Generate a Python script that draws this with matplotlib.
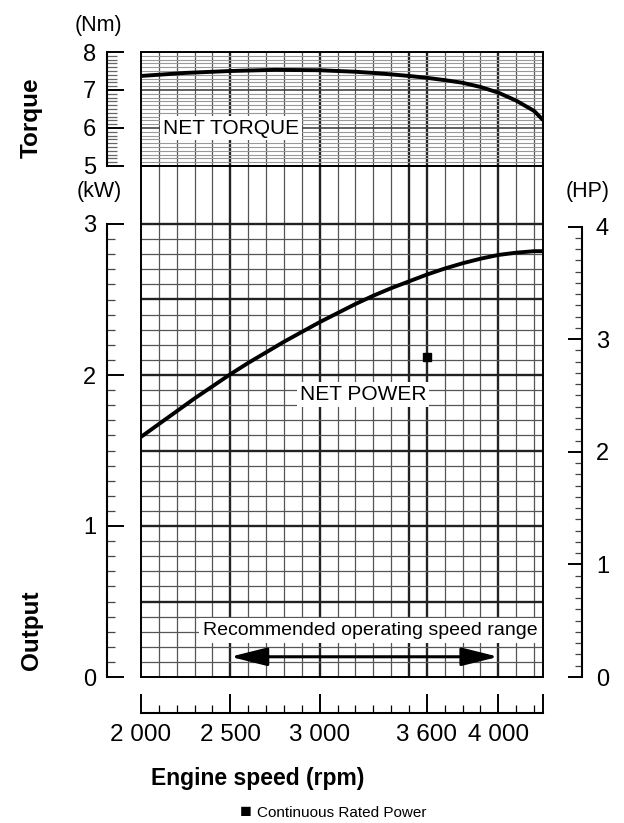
import numpy as np
import matplotlib
matplotlib.use("Agg")
import matplotlib.pyplot as plt
from matplotlib.patches import FancyArrowPatch
from matplotlib.ticker import FixedLocator

plt.rcParams['font.family'] = ['Liberation Sans', 'DejaVu Sans']

# curve readings (engine speed in rpm)
rpm_torque = [2000, 2250, 2500, 2750, 3000, 3200, 3330, 3500, 3600, 3700, 3800, 3900, 4000, 4100, 4200, 4250]
torque_nm = [7.37, 7.45, 7.50, 7.53, 7.52, 7.48, 7.44, 7.37, 7.32, 7.26, 7.19, 7.08, 6.93, 6.72, 6.45, 6.21]

rpm_power = [2000, 2100, 2200, 2300, 2400, 2500, 2600, 2700, 2800, 2900, 3000, 3100,
             3200, 3300, 3400, 3500, 3600, 3700, 3800, 3900, 4000, 4100, 4200, 4250]
power_kw = [1.59, 1.675, 1.76, 1.845, 1.925, 2.005, 2.08, 2.15, 2.22, 2.285, 2.35, 2.41,
            2.47, 2.525, 2.575, 2.62, 2.665, 2.705, 2.74, 2.77, 2.795, 2.81, 2.82, 2.82]

rated_rpm = [3600]
rated_kw = [2.12]
range_rpm = [2500, 4000]

speed_ticks = [2000, 2500, 3000, 3600, 4000, 4250]
speed_labels = ["2 000", "2 500", "3 000", "3 600", "4 000", ""]
heavy_rpm = [2500, 3000, 3500, 3600, 4000]
KW_PER_HP = 0.7457

W, H = 624, 823
L, R = 141, 543
fig = plt.figure(figsize=(W / 100, H / 100), dpi=100)
ax_t = fig.add_axes([L / W, 1 - 166 / H, (R - L) / W, 114 / H])
ax_p = fig.add_axes([L / W, 1 - 677 / H, (R - L) / W, 511 / H])

ax_t.set(xlim=(2000, 4250), ylim=(5, 8))
ax_p.set(xlim=(2000, 4250), ylim=(0, 511 / 151))
for ax in (ax_t, ax_p):
    ax.set_xticks([])
    ax.set_yticks([])
    for s in ax.spines.values():
        s.set_linewidth(1.4)
    for v in np.arange(2100, 4250, 100):
        hv = int(round(v)) in heavy_rpm
        ax.axvline(v, color='#222' if hv else '#555', lw=1.7 if hv else 0.9, zorder=1)

# torque grid
for v in np.arange(5.1, 8.0, 0.1):
    whole = abs(v - round(v)) < 1e-6
    ax_t.axhline(v, color='#444' if whole else '#999', lw=1.2 if whole else 0.8, zorder=1)
# power grid
for v in np.arange(0.1, 3.01, 0.1):
    hv = int(round(v * 10)) % 5 == 0
    ax_p.axhline(v, color='#222' if hv else '#555', lw=1.7 if hv else 0.9, zorder=1)

ax_t.plot(rpm_torque, torque_nm, color='black', lw=2.8, zorder=3, solid_capstyle='butt')
ax_p.plot(rpm_power, power_kw, color='black', lw=2.8, zorder=3, solid_capstyle='butt')
ax_p.plot(rated_rpm, rated_kw, 's', color='black', ms=6, zorder=4)

box = dict(fc='white', ec='none', pad=2)
ax_t.text(2505, 6.0, "NET TORQUE", ha='center', va='center', fontsize=15, bbox=box, zorder=5)
ax_p.text(3245, 1.87, "NET POWER", ha='center', va='center', fontsize=15, bbox=box, zorder=5)
ax_p.text(3284, 0.31, "Recommended operating speed range", ha='center', va='center',
          fontsize=14, bbox=dict(fc='white', ec='none', pad=3), zorder=5)
ax_p.add_patch(FancyArrowPatch((range_rpm[0], 0.134), (range_rpm[1], 0.134),
                               arrowstyle='<|-|>,head_length=1.6,head_width=0.4', mutation_scale=14,
                               lw=2.2, color='black', shrinkA=0, shrinkB=0, zorder=5))

# separate scales
off = -34 / (R - L)
sec_t = ax_t.secondary_yaxis(off)
sec_t.set_yticks([5, 6, 7, 8])
sec_t.yaxis.set_minor_locator(FixedLocator(np.arange(5, 8.001, 0.1)))
sec_t.spines['left'].set_bounds(5, 8)
sec_t.spines['left'].set_linewidth(1.5)
sec_t.tick_params(which='major', direction='in', length=12, width=1.4, pad=8, labelsize=17)
sec_t.tick_params(which='minor', direction='in', length=7, width=0.9, color='#666')

sec_kw = ax_p.secondary_yaxis(off)
sec_kw.set_yticks([0, 1, 2, 3])
sec_kw.yaxis.set_minor_locator(FixedLocator(np.arange(0, 3.001, 0.1)))
sec_kw.spines['left'].set_bounds(0, 3)
sec_kw.spines['left'].set_linewidth(1.5)
sec_kw.tick_params(which='major', direction='in', length=12, width=1.4, pad=8, labelsize=17)
sec_kw.tick_params(which='minor', direction='in', length=6, width=0.9, color='#444')

sec_hp = ax_p.secondary_yaxis(1 + 39 / (R - L), functions=(lambda k: k / KW_PER_HP, lambda h: h * KW_PER_HP))
sec_hp.set_yticks([0, 1, 2, 3, 4])
sec_hp.yaxis.set_minor_locator(FixedLocator(np.arange(0, 4.001, 0.1)))
sec_hp.spines['right'].set_bounds(0, 4)
sec_hp.spines['right'].set_linewidth(1.5)
sec_hp.tick_params(which='major', direction='in', length=10, width=1.4, pad=10, labelsize=17)
sec_hp.tick_params(which='minor', direction='in', length=5, width=0.9, color='#444')

sec_x = ax_p.secondary_xaxis(-36 / 511)
sec_x.xaxis.set_major_locator(FixedLocator(speed_ticks))
sec_x.set_xticklabels(speed_labels)
sec_x.xaxis.set_minor_locator(FixedLocator(np.arange(2100, 4250, 100)))
sec_x.spines['bottom'].set_bounds(2000, 4250)
sec_x.spines['bottom'].set_linewidth(1.5)
sec_x.tick_params(which='major', direction='in', length=14, width=1.4, pad=8, labelsize=17.5)
sec_x.tick_params(which='minor', direction='in', length=6, width=0.9)

fig.text(98 / W, 1 - 25 / H, "(Nm)", ha='center', va='center', fontsize=15.5)
fig.text(99 / W, 1 - 192 / H, "(kW)", ha='center', va='center', fontsize=15.5)
fig.text(588 / W, 1 - 192 / H, "(HP)", ha='center', va='center', fontsize=15.5)
fig.text(31 / W, 1 - 118 / H, "Torque", rotation=90, ha='center', va='center', fontsize=17.5, fontweight='bold')
fig.text(32 / W, 1 - 630 / H, "Output", rotation=90, ha='center', va='center', fontsize=17.5, fontweight='bold')
fig.text(258 / W, 1 - 778 / H, "Engine speed (rpm)", ha='center', va='center', fontsize=16.5, fontweight='bold')
fig.text(246 / W, 1 - 813 / H, "\u25a0", ha='center', va='center', fontsize=14)
fig.text(257 / W, 1 - 813 / H, "Continuous Rated Power", ha='left', va='center', fontsize=11)

fig.savefig("out.png", dpi=100)
